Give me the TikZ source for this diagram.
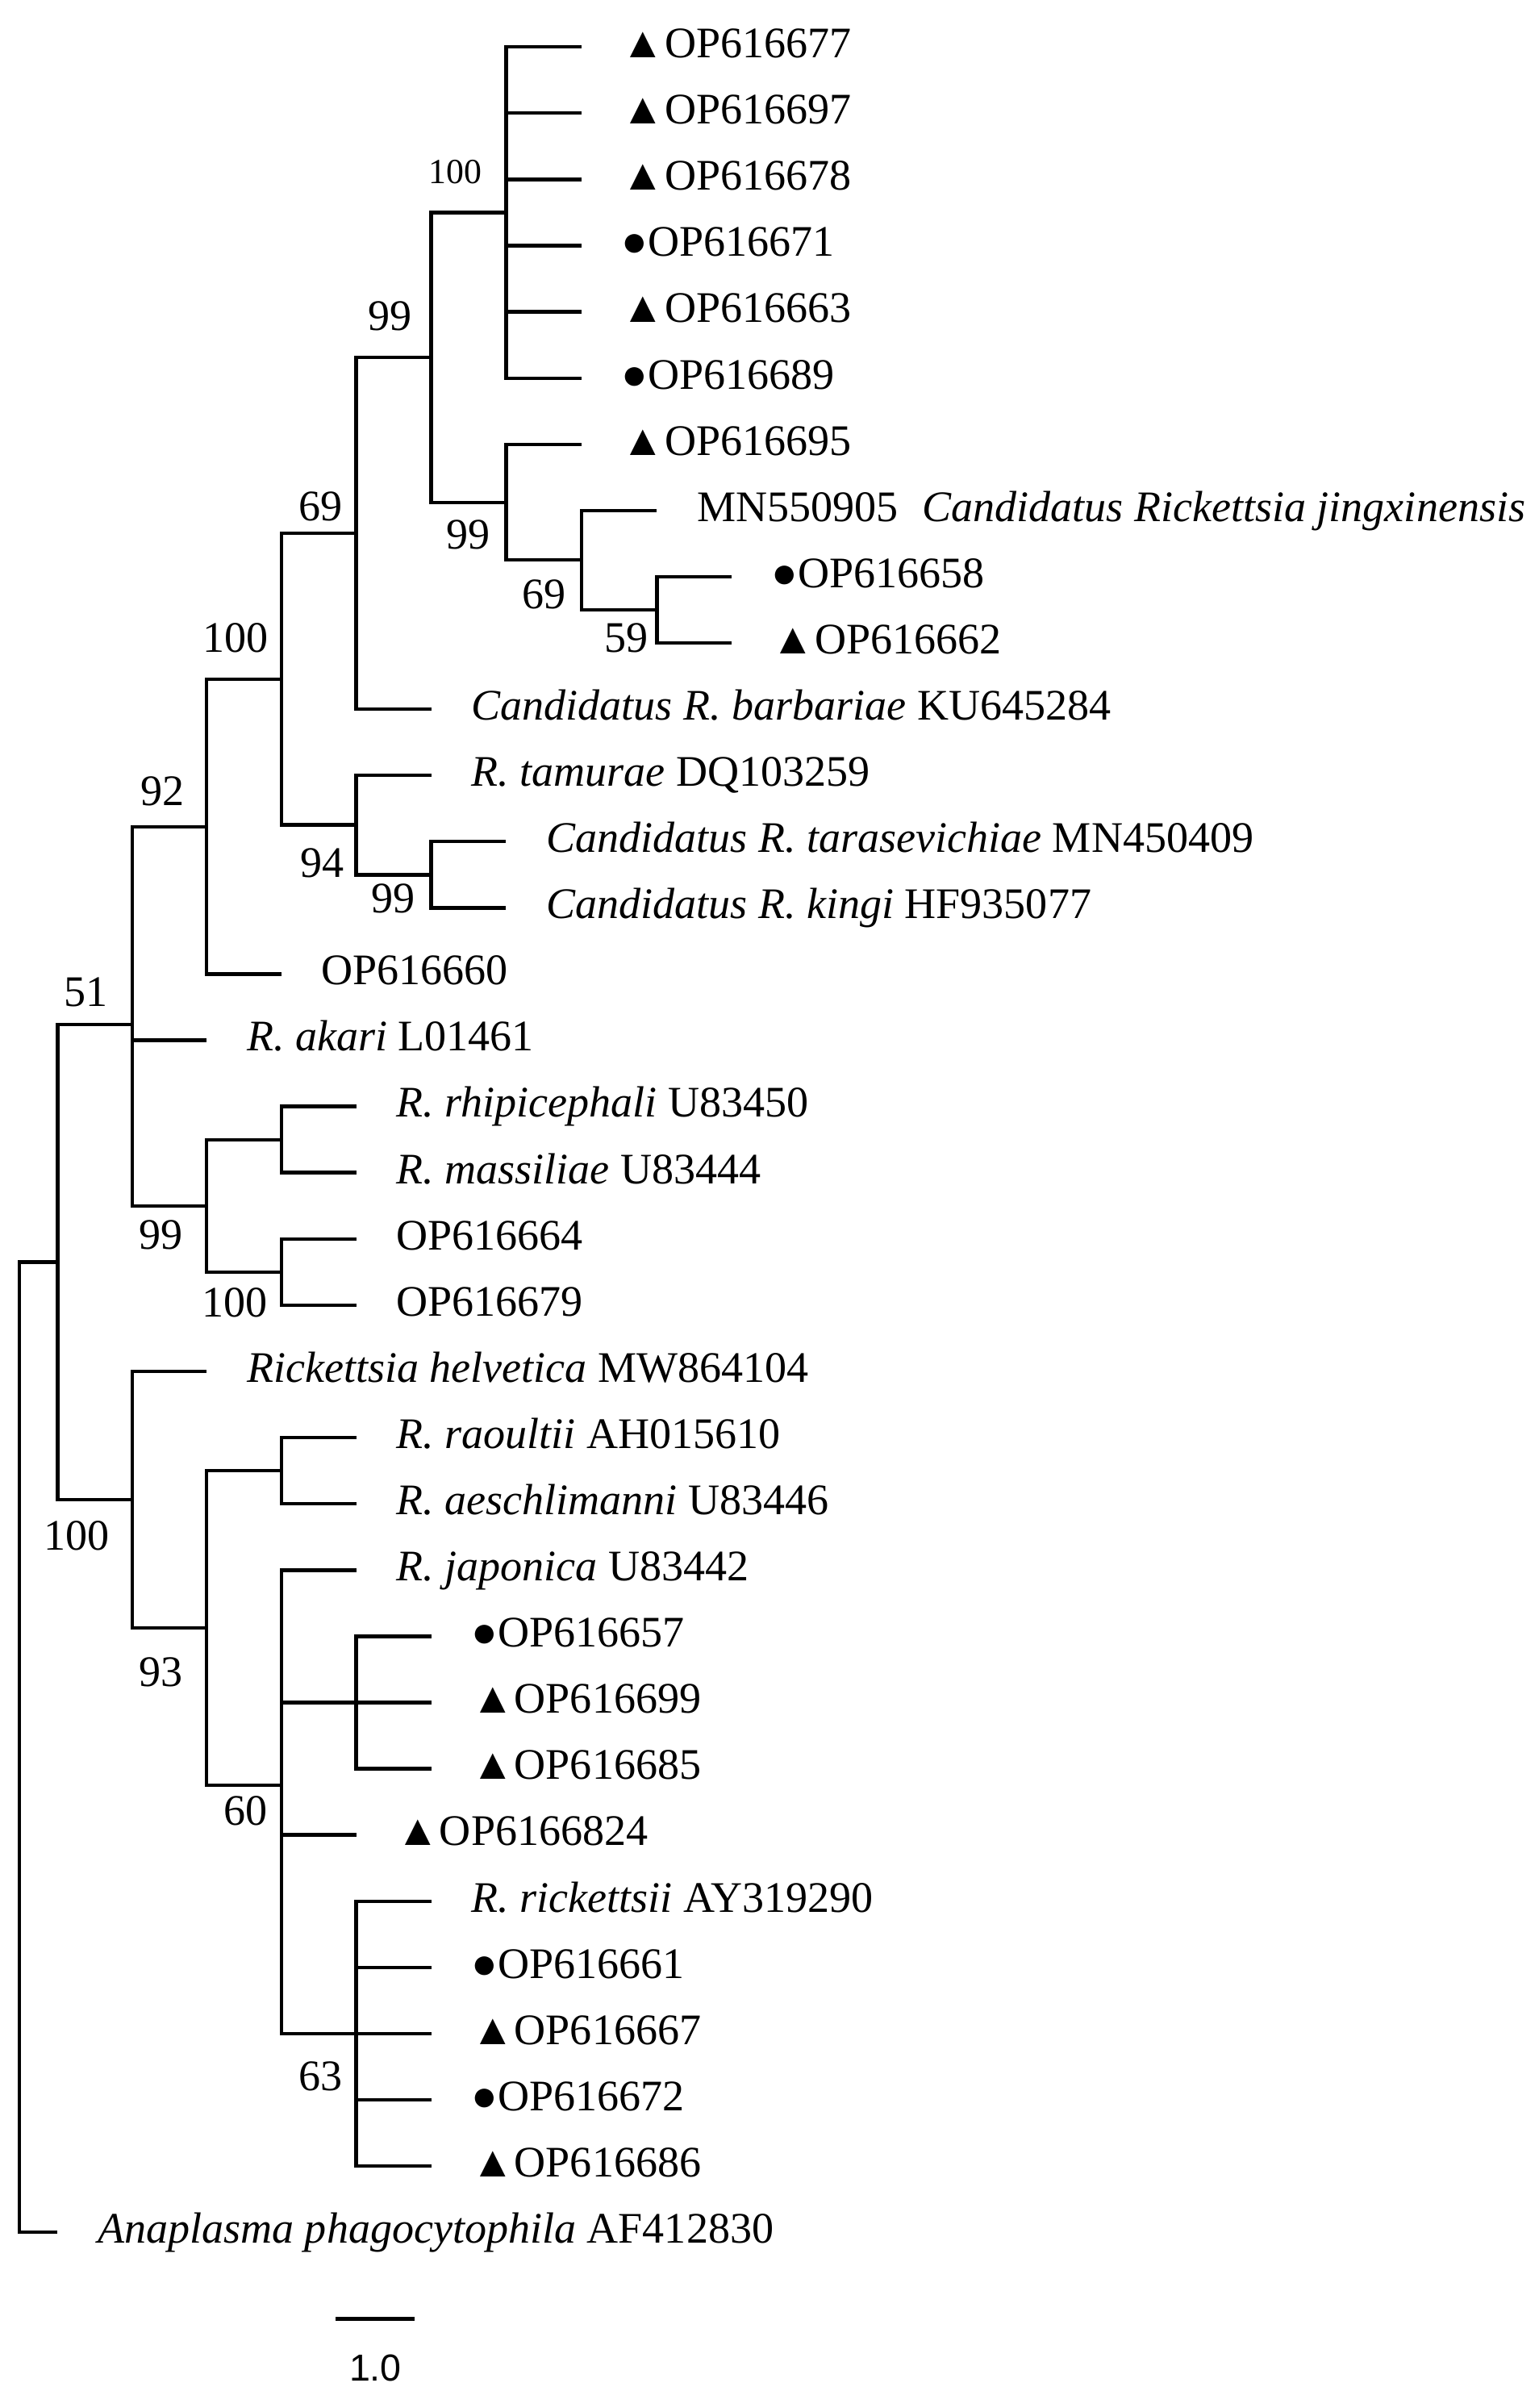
\documentclass[tikz,border=0pt]{standalone}
\usepackage{fontspec}
\setmainfont{Liberation Serif}
\newfontfamily\barfont{Liberation Sans}

\newcommand{\trimark}{▲}
\newcommand{\dotmark}{●}

\begin{document}
\begin{tikzpicture}[
			x = 1pt, y = -1pt, % one unit per pixel, y runs downwards
			line width = 2.3pt, % branch lines
			font = \fontsize{28.4}{34}\selectfont
			]
			
			\tikzstyle{taxon}=[
			anchor = base west,
			inner sep = 0pt,
			xshift = 25pt,
			yshift = -7pt
			]
			\tikzstyle{boot}=[inner sep = 0pt]
			
			\useasboundingbox (0,0) rectangle (1002,1568);
			
			% inner nodes of the tree
			\coordinate (root) at (12.5,1137.7);
			\coordinate (nA) at (37.5,821.8);
			\coordinate (n51) at (86,667);
			\coordinate (n92) at (134.6,538.3);
			\coordinate (n100b) at (183.2,442.3);
			\coordinate (n69a) at (232,347.3);
			\coordinate (n99a) at (280.8,232.8);
			\coordinate (n100a) at (329.6,138.4);
			\coordinate (n99b) at (329.6,327.2);
			\coordinate (n69b) at (378.8,364.7);
			\coordinate (n59) at (427.8,397.2);
			\coordinate (n94) at (232,537.2);
			\coordinate (n99c) at (280.8,569.6);
			\coordinate (n99d) at (134.6,785.2);
			\coordinate (nrm) at (183.2,742.1);
			\coordinate (n100c) at (183.2,828.3);
			\coordinate (n100d) at (86,976.6);
			\coordinate (n93) at (134.6,1060.1);
			\coordinate (nra) at (183.2,957.7);
			\coordinate (n60) at (183.2,1162.5);
			\coordinate (npoly) at (232,1108.6);
			\coordinate (n63) at (232,1324.2);
			
			% tips of the tree
			\coordinate (l1) at (378.8,30.6);
			\coordinate (l2) at (378.8,73.7);
			\coordinate (l3) at (378.8,116.8);
			\coordinate (l4) at (378.8,160.0);
			\coordinate (l5) at (378.8,203.1);
			\coordinate (l6) at (378.8,246.2);
			\coordinate (l7) at (378.8,289.3);
			\coordinate (l8) at (427.8,332.4);
			\coordinate (l9) at (476.5,375.6);
			\coordinate (l10) at (476.5,418.7);
			\coordinate (l11) at (280.8,461.8);
			\coordinate (l12) at (280.8,504.9);
			\coordinate (l13) at (329.6,548.0);
			\coordinate (l14) at (329.6,591.2);
			\coordinate (l15) at (183.2,634.3);
			\coordinate (l16) at (134.6,677.4);
			\coordinate (l17) at (232,720.5);
			\coordinate (l18) at (232,763.6);
			\coordinate (l19) at (232,806.8);
			\coordinate (l20) at (232,849.9);
			\coordinate (l21) at (134.6,893.0);
			\coordinate (l22) at (232,936.1);
			\coordinate (l23) at (232,979.2);
			\coordinate (l24) at (232,1022.4);
			\coordinate (l25) at (280.8,1065.5);
			\coordinate (l26) at (280.8,1108.6);
			\coordinate (l27) at (280.8,1151.7);
			\coordinate (l28) at (232,1194.8);
			\coordinate (l29) at (280.8,1238.0);
			\coordinate (l30) at (280.8,1281.1);
			\coordinate (l31) at (280.8,1324.2);
			\coordinate (l32) at (280.8,1367.3);
			\coordinate (l33) at (280.8,1410.4);
			\coordinate (l34) at (37.5,1453.6);
			
			\draw
			(root)	|- (nA) (root) |- (l34)
			(nA)	|- (n51) (nA) |- (n100d)
			(n51)	|- (n92) (n51) |- (l16) (n51) |- (n99d)
			(n92)	|- (n100b) (n92) |- (l15)
			(n100b)	|- (n69a) (n100b) |- (n94)
			(n69a)	|- (n99a) (n69a) |- (l11)
			(n99a)	|- (n100a) (n99a) |- (n99b)
			(n100a)	|- (l1) (n100a) |- (l2) (n100a) |- (l3)
			(n100a)	|- (l4) (n100a) |- (l5) (n100a) |- (l6)
			(n99b)	|- (l7) (n99b) |- (n69b)
			(n69b)	|- (l8) (n69b) |- (n59)
			(n59)	|- (l9) (n59) |- (l10)
			(n94)	|- (l12) (n94) |- (n99c)
			(n99c)	|- (l13) (n99c) |- (l14)
			(n99d)	|- (nrm) (n99d) |- (n100c)
			(nrm)	|- (l17) (nrm) |- (l18)
			(n100c)	|- (l19) (n100c) |- (l20)
			(n100d)	|- (l21) (n100d) |- (n93)
			(n93)	|- (nra) (n93) |- (n60)
			(nra)	|- (l22) (nra) |- (l23)
			(n60)	|- (l24) (n60) |- (npoly) (n60) |- (l28) (n60) |- (n63)
			(npoly)	|- (l25) (npoly) |- (l26) (npoly) |- (l27)
			(n63)	|- (l29) (n63) |- (l30) (n63) |- (l31)
			(n63)	|- (l32) (n63) |- (l33)
			;
			
			% taxon labels
			\node[taxon] (t1) at (l1) {\trimark OP616677};
			\node[taxon] (t2) at (l2) {\trimark OP616697};
			\node[taxon] (t3) at (l3) {\trimark OP616678};
			\node[taxon] (t4) at (l4) {\dotmark OP616671};
			\node[taxon] (t5) at (l5) {\trimark OP616663};
			\node[taxon] (t6) at (l6) {\dotmark OP616689};
			\node[taxon] (t7) at (l7) {\trimark OP616695};
			\node[taxon] (t8) at (l8) {MN550905\hspace{0.55em}\textit{Candidatus Rickettsia jingxinensis}};
			\node[taxon] (t9) at (l9) {\dotmark OP616658};
			\node[taxon] (t10) at (l10) {\trimark OP616662};
			\node[taxon] (t11) at (l11) {\textit{Candidatus R. barbariae} KU645284};
			\node[taxon] (t12) at (l12) {\textit{R. tamurae} DQ103259};
			\node[taxon] (t13) at (l13) {\textit{Candidatus R. tarasevichiae} MN450409};
			\node[taxon] (t14) at (l14) {\textit{Candidatus R. kingi} HF935077};
			\node[taxon] (t15) at (l15) {OP616660};
			\node[taxon] (t16) at (l16) {\textit{R. akari} L01461};
			\node[taxon] (t17) at (l17) {\textit{R. rhipicephali} U83450};
			\node[taxon] (t18) at (l18) {\textit{R. massiliae} U83444};
			\node[taxon] (t19) at (l19) {OP616664};
			\node[taxon] (t20) at (l20) {OP616679};
			\node[taxon] (t21) at (l21) {\textit{Rickettsia helvetica} MW864104};
			\node[taxon] (t22) at (l22) {\textit{R. raoultii} AH015610};
			\node[taxon] (t23) at (l23) {\textit{R. aeschlimanni} U83446};
			\node[taxon] (t24) at (l24) {\textit{R. japonica} U83442};
			\node[taxon] (t25) at (l25) {\dotmark OP616657};
			\node[taxon] (t26) at (l26) {\trimark OP616699};
			\node[taxon] (t27) at (l27) {\trimark OP616685};
			\node[taxon] (t28) at (l28) {\trimark OP6166824};
			\node[taxon] (t29) at (l29) {\textit{R. rickettsii} AY319290};
			\node[taxon] (t30) at (l30) {\dotmark OP616661};
			\node[taxon] (t31) at (l31) {\trimark OP616667};
			\node[taxon] (t32) at (l32) {\dotmark OP616672};
			\node[taxon] (t33) at (l33) {\trimark OP616686};
			\node[taxon] (t34) at (l34) {\textit{Anaplasma phagocytophila} AF412830};
			
			% bootstrap values
			\node[boot, font=\fontsize{23}{28}\selectfont] (b100a) at (296.5,112) {100};
			\node[boot] (b99a) at (254,206) {99};
			\node[boot] (b69a) at (209,330) {69};
			\node[boot] (b99b) at (305,348) {99};
			\node[boot] (b69b) at (354.5,387) {69};
			\node[boot] (b59) at (408,415.5) {59};
			\node[boot] (b100b) at (153.5,415.5) {100};
			\node[boot] (b92) at (106,515) {92};
			\node[boot] (b94) at (210,562) {94};
			\node[boot] (b99c) at (256,585) {99};
			\node[boot] (b51) at (56,646) {51};
			\node[boot] (b99d) at (105,804) {99};
			\node[boot] (b100c) at (153,848) {100};
			\node[boot] (b100d) at (50,1000) {100};
			\node[boot] (b93) at (105,1089) {93};
			\node[boot] (b60) at (160,1179) {60};
			\node[boot] (b63) at (209,1352) {63};
			
			% scale bar
			\coordinate (s0) at (218.6,1510);
			\coordinate (s1) at (269.8,1510);
			\draw[line width = 3pt] (s0) -- (s1);
			\node[boot, font=\barfont\fontsize{24.5}{28}\selectfont] (slab) at (244.5,1542) {1.0};
		\end{tikzpicture}
\end{document}
